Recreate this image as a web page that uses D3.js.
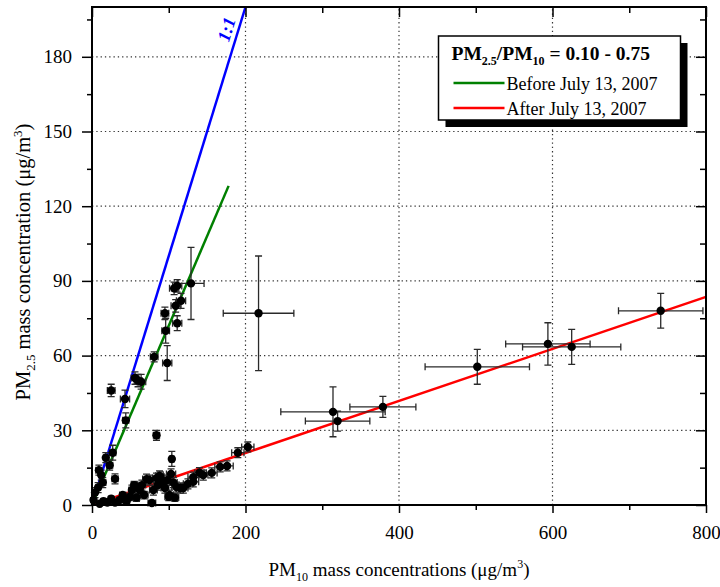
<!DOCTYPE html>
<html>
<head>
<meta charset="utf-8">
<script src="https://cdn.jsdelivr.net/npm/d3@7"></script>
<style>
  body { margin: 0; background: #fff; }
  svg text { font-family: "Liberation Serif", "Times New Roman", serif !important; fill: #000; }
</style>
</head>
<body>
<svg id="chart"></svg>
<script>
/* DATA */
// before July 13, 2007 (PM10, PM2.5, errors)
const beforePM10 = [129, 107, 111, 109, 116, 111, 95, 96, 81, 98, 56, 60, 64, 25, 43, 44, 27, 23, 9, 30, 14, 8, 4, 84, 104, 2, 18, 12];
const beforePM25 = [89, 87, 88, 80, 82, 73, 77, 70, 59.5, 57, 51, 50, 49.5, 46, 42.6, 34, 21, 16, 14, 10.5, 9, 7, 5, 28, 18.5, 2, 19, 12];
const beforePM10Err = [17, 6, 6, 6, 6, 6, 5, 5, 5, 6, 5, 5, 6, 5, 6, 4, 4, 4, 4, 4, 4, 3, 3, 4, 3, 2, 3, 3];
const beforePM25Err = [14.5, 2.5, 2.5, 2.5, 3, 3, 2.5, 5, 2, 7, 2.5, 2.5, 3, 2.5, 3.5, 3, 3, 2, 2, 2, 2, 2, 2, 2, 3, 1, 2, 2];

// after July 13, 2007
const afterPM10 = [741, 625, 594, 502, 379, 320, 314, 217, 203, 190, 176, 167, 156, 140, 132, 132, 119, 115, 110, 103, 101, 100, 95, 89, 88, 86, 84, 80, 78, 75, 71, 68, 62, 58, 55, 49.5, 45, 40, 36, 30, 25, 20, 15, 10, 92, 98, 106, 125, 145, 65, 52, 108];
const afterPM25 = [78, 63.5, 64.7, 55.5, 39.4, 33.7, 37.4, 77, 23.3, 21, 15.7, 15.3, 12.9, 13, 11.2, 9.3, 6.8, 6.8, 7.2, 12.5, 4, 3.3, 6.8, 11.3, 11.7, 8, 10.8, 6, 0.8, 10, 10.4, 4, 6, 3, 8, 3.3, 1.5, 4, 2, 1, 2.5, 1, 1.5, 0.5, 9, 10, 9, 8.5, 12, 8, 6, 3];
const afterPM10Err = [55, 64, 55, 68, 43, 42, 68, 46, 8, 8, 8, 7, 7, 6, 7, 7, 6, 6, 6, 6, 5, 5, 5, 5, 5, 5, 5, 5, 5, 5, 5, 5, 5, 4, 4, 4, 4, 4, 4, 3, 3, 3, 3, 2, 5, 5, 5, 6, 6, 5, 4, 5];
const afterPM25Err = [7, 7, 8.5, 7, 4.2, 4, 10, 23, 2, 2, 2, 2, 2, 2, 2, 2, 2, 2, 2, 2, 2, 1.5, 2, 2, 2, 2, 2, 2, 1, 2, 2, 1.5, 1.5, 1.5, 1.5, 1.5, 1, 1, 1, 1, 1, 1, 1, 1, 2, 2, 2, 2, 2, 2, 2, 1.5];

// fitted lines through origin
const fitNames = ["1:1", "Before July 13, 2007", "After July 13, 2007"];
const fitSlopes = [1, 0.72, 0.1045];
const fitXEnd = [200, 178, 800];
const fitColors = ["#0000ff", "#008000", "#ff0000"];

// ticks
const xTicks = [0, 200, 400, 600, 800];
const xMinor = [100, 300, 500, 700];
const yTicks = [0, 30, 60, 90, 120, 150, 180];
const yMinor = [15, 45, 75, 105, 135, 165, 195];

/* CONSTANTS */
const width = 720,
  height = 587,
  margin = { top: 7, bottom: 82, left: 92, right: 14 };

const svg = d3.select("#chart")
  .attr("width", width)
  .attr("height", height);

const xScale = d3.scaleLinear()
  .domain([0, 800])
  .range([margin.left, width - margin.right]);

const yScale = d3.scaleLinear()
  .domain([0, 200])
  .range([height - margin.bottom, margin.top]);

const x0 = margin.left, x1 = width - margin.right;
const y0 = height - margin.bottom, y1 = margin.top;

// GRID
svg.append("g")
  .selectAll("line")
  .data(xTicks.slice(1, -1))
  .join("line")
  .attr("x1", d => xScale(d)).attr("x2", d => xScale(d))
  .attr("y1", y0).attr("y2", y1)
  .attr("stroke", "#333")
  .attr("stroke-width", 1.2)
  .attr("stroke-dasharray", "1.3,3");

svg.append("g")
  .selectAll("line")
  .data(yTicks.slice(1))
  .join("line")
  .attr("y1", d => yScale(d)).attr("y2", d => yScale(d))
  .attr("x1", x0).attr("x2", x1)
  .attr("stroke", "#333")
  .attr("stroke-width", 1.2)
  .attr("stroke-dasharray", "1.3,3");

// FIT LINES
svg.append("g")
  .selectAll("line")
  .data(fitNames)
  .join("line")
  .attr("x1", xScale(0)).attr("y1", yScale(0))
  .attr("x2", (d, i) => xScale(fitXEnd[i]))
  .attr("y2", (d, i) => yScale(fitXEnd[i] * fitSlopes[i]))
  .attr("stroke", (d, i) => fitColors[i])
  .attr("stroke-width", 2.5);

// 1:1 label, along the blue line
const angle = Math.atan2(yScale(200) - yScale(0), xScale(200) - xScale(0)) * 180 / Math.PI;
svg.append("text")
  .attr("transform", `translate(${xScale(191) - 12}, ${yScale(191)}) rotate(${angle})`)
  .attr("text-anchor", "middle")
  .attr("dominant-baseline", "central")
  .style("font-size", "18px")
  .style("font-weight", "bold")
  .style("font-style", "italic")
  .style("fill", "#0000ff")
  .text("1:1");

// POINTS WITH ERROR BARS
const points = [];
beforePM10.forEach((v, i) => points.push({ x: v, y: beforePM25[i], ex: beforePM10Err[i], ey: beforePM25Err[i] }));
afterPM10.forEach((v, i) => points.push({ x: v, y: afterPM25[i], ex: afterPM10Err[i], ey: afterPM25Err[i] }));

const cap = 3.5;
const errG = svg.append("g")
  .attr("stroke", "#2a2a2a")
  .attr("stroke-width", 1.3)
  .attr("fill", "none");

errG.selectAll("path")
  .data(points)
  .join("path")
  .attr("d", d => {
    const cx = xScale(d.x), cy = yScale(d.y);
    const xl = xScale(d.x - d.ex), xr = xScale(d.x + d.ex);
    const yt = yScale(d.y + d.ey), yb = yScale(Math.max(0, d.y - d.ey));
    return `M${xl},${cy}H${xr}` +
      `M${xl},${cy - cap}V${cy + cap}M${xr},${cy - cap}V${cy + cap}` +
      `M${cx},${yt}V${yb}` +
      `M${cx - cap},${yt}H${cx + cap}M${cx - cap},${yb}H${cx + cap}`;
  });

svg.append("g")
  .selectAll("circle")
  .data(points)
  .join("circle")
  .attr("cx", d => xScale(d.x))
  .attr("cy", d => yScale(d.y))
  .attr("r", 4.2)
  .attr("fill", "#000");

// AXES
const axisStyle = g => {
  g.attr("font-family", null).attr("font-size", null);
  g.select(".domain").remove();
  g.selectAll(".tick line").attr("stroke", "#000").attr("stroke-width", 1.5);
  g.selectAll(".tick text").style("font-size", "19px");
};

svg.append("g")
  .attr("transform", `translate(0, ${y0})`)
  .call(d3.axisBottom(xScale).tickValues(xTicks).tickSize(8).tickPadding(13))
  .call(axisStyle);
svg.append("g")
  .attr("transform", `translate(0, ${y0})`)
  .call(d3.axisBottom(xScale).tickValues(xMinor).tickSize(5).tickFormat(""))
  .call(axisStyle);

svg.append("g")
  .attr("transform", `translate(${x0}, 0)`)
  .call(d3.axisLeft(yScale).tickValues(yTicks).tickSize(10).tickPadding(10))
  .call(axisStyle);
svg.append("g")
  .attr("transform", `translate(${x0}, 0)`)
  .call(d3.axisLeft(yScale).tickValues(yMinor).tickSize(5).tickFormat(""))
  .call(axisStyle);

// right and top: ticks pointing inward
svg.append("g")
  .attr("transform", `translate(${x1}, 0)`)
  .call(d3.axisLeft(yScale).tickValues(yTicks).tickSize(10).tickFormat(""))
  .call(axisStyle);
svg.append("g")
  .attr("transform", `translate(${x1}, 0)`)
  .call(d3.axisLeft(yScale).tickValues(yMinor).tickSize(6).tickFormat(""))
  .call(axisStyle);
svg.append("g")
  .attr("transform", `translate(0, ${y1})`)
  .call(d3.axisBottom(xScale).tickValues(xTicks).tickSize(10).tickFormat(""))
  .call(axisStyle);
svg.append("g")
  .attr("transform", `translate(0, ${y1})`)
  .call(d3.axisBottom(xScale).tickValues(xMinor).tickSize(6).tickFormat(""))
  .call(axisStyle);

// frame
svg.append("rect")
  .attr("x", x0).attr("y", y1)
  .attr("width", x1 - x0).attr("height", y0 - y1)
  .attr("fill", "none")
  .attr("stroke", "#000")
  .attr("stroke-width", 2);

// AXIS LABELS
const xLabel = svg.append("text")
  .attr("x", (x0 + x1) / 2)
  .attr("y", 576)
  .attr("text-anchor", "middle")
  .style("font-size", "19px");
xLabel.append("tspan").text("PM");
xLabel.append("tspan").attr("dy", 5).style("font-size", "12px").text("10");
xLabel.append("tspan").attr("dy", -5).text(" mass concentrations (μg/m");
xLabel.append("tspan").attr("dy", -8).style("font-size", "12px").text("3");
xLabel.append("tspan").attr("dy", 8).text(")");

const yLabel = svg.append("text")
  .attr("transform", `translate(30, ${(y0 + y1) / 2 + 6}) rotate(-90)`)
  .attr("text-anchor", "middle")
  .style("font-size", "20.5px");
yLabel.append("tspan").text("PM");
yLabel.append("tspan").attr("dy", 5).style("font-size", "13px").text("2.5");
yLabel.append("tspan").attr("dy", -5).text(" mass concentration (μg/m");
yLabel.append("tspan").attr("dy", -8).style("font-size", "13px").text("3");
yLabel.append("tspan").attr("dy", 8).text(")");

// LEGEND
const legend = svg.append("g").attr("transform", "translate(438.5, 36)");
legend.append("rect")
  .attr("x", 7).attr("y", 7)
  .attr("width", 242).attr("height", 84)
  .attr("fill", "#000");
legend.append("rect")
  .attr("width", 242).attr("height", 84)
  .attr("fill", "#fff")
  .attr("stroke", "#000")
  .attr("stroke-width", 1.5);

const title = legend.append("text")
  .attr("x", 13).attr("y", 24)
  .style("font-size", "19.5px")
  .style("font-weight", "bold");
title.append("tspan").text("PM");
title.append("tspan").attr("dy", 5).style("font-size", "12px").text("2.5");
title.append("tspan").attr("dy", -5).text("/PM");
title.append("tspan").attr("dy", 5).style("font-size", "12px").text("10");
title.append("tspan").attr("dy", -5).text(" = 0.10 - 0.75");

const entries = fitNames.slice(1);
legend.selectAll(".entry-line")
  .data(entries)
  .join("line")
  .attr("class", "entry-line")
  .attr("x1", 15).attr("x2", 66)
  .attr("y1", (d, i) => 47 + i * 25)
  .attr("y2", (d, i) => 47 + i * 25)
  .attr("stroke", (d, i) => fitColors[i + 1])
  .attr("stroke-width", 2.5);
legend.selectAll(".entry-text")
  .data(entries)
  .join("text")
  .attr("class", "entry-text")
  .attr("x", 68)
  .attr("y", (d, i) => 54 + i * 25)
  .style("font-size", "18px")
  .text(d => d);
</script>
</body>
</html>
